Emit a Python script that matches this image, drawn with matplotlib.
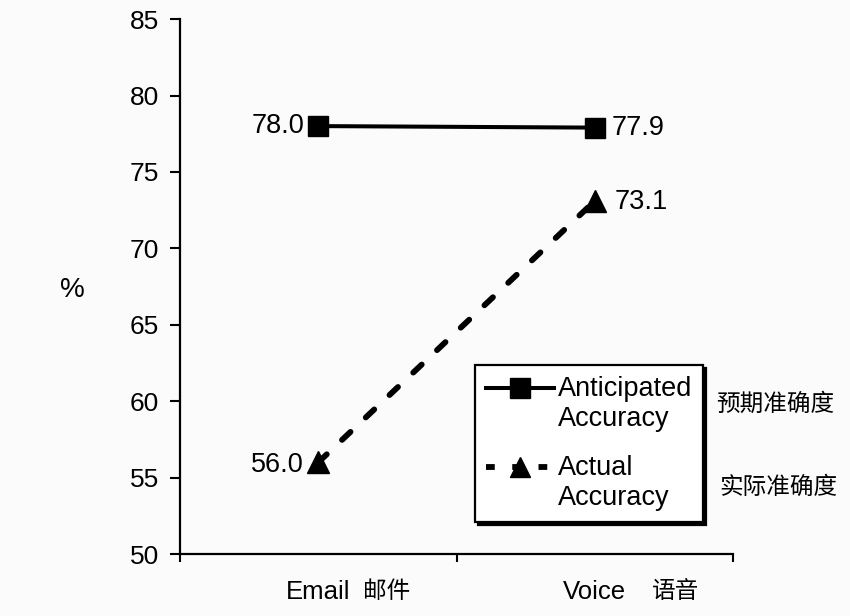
import numpy as np
import matplotlib.pyplot as plt
from matplotlib.lines import Line2D
from matplotlib.legend_handler import HandlerLine2D

plt.rcParams['font.family'] = ['Liberation Sans', 'Noto Sans CJK SC', 'DejaVu Sans']

categories = ['Email', 'Voice']
categories_cn = ['邮件', '语音']
anticipated = [78.0, 77.9]
actual = [56.0, 73.1]
series_names = ['Anticipated\nAccuracy', 'Actual\nAccuracy']
series_names_cn = ['预期准确度', '实际准确度']
yticks = [50, 55, 60, 65, 70, 75, 80, 85]


class TopLineHandler(HandlerLine2D):
    # put the handle next to the first line of a two-line label
    def create_artists(self, legend, orig_handle, xdescent, ydescent,
                       width, height, fontsize, trans):
        arts = super().create_artists(legend, orig_handle, xdescent, ydescent,
                                      width, height, fontsize, trans)
        for a in arts:
            a.set_ydata(np.asarray(a.get_ydata()) + 0.6 * fontsize)
        return arts


fig = plt.figure(figsize=(8.5, 6.16), dpi=100, facecolor='#fbfbfb')
ax = fig.add_axes([0.2118, 0.1006, 0.8624 - 0.2118, 0.969 - 0.1006])
ax.set_facecolor('#fbfbfb')

x = list(range(len(categories)))
ax.plot(x, anticipated, color='black', lw=2.9, marker='s', ms=15, zorder=3)
ax.plot(x, actual, color='black', lw=4.2, ls=(0, (2.0, 3.6)), marker='^', ms=16,
        dash_capstyle='round', zorder=3)

# value labels
fs = 19.5
ax.annotate(f'{anticipated[0]:.1f}', xy=(x[0], anticipated[0]), xytext=(-14, 0),
            textcoords='offset pixels', ha='right', va='center', fontsize=fs)
ax.annotate(f'{anticipated[1]:.1f}', xy=(x[1], anticipated[1]), xytext=(17, 0),
            textcoords='offset pixels', ha='left', va='center', fontsize=fs)
ax.annotate(f'{actual[0]:.1f}', xy=(x[0], actual[0]), xytext=(-15, -3),
            textcoords='offset pixels', ha='right', va='center', fontsize=fs)
ax.annotate(f'{actual[1]:.1f}', xy=(x[1], actual[1]), xytext=(20, -1),
            textcoords='offset pixels', ha='left', va='center', fontsize=fs)

ax.set_xlim(-0.5, 1.5)
ax.set_ylim(50, 85)
ax.set_yticks(yticks)
ax.tick_params(axis='y', length=7, width=1.5, labelsize=19, pad=8)
ax.set_xticks(x)
ax.set_xticklabels(categories, fontsize=18.5)
ax.tick_params(axis='x', length=0, pad=19)
ax.set_xticks([-0.5, 0.5, 1.5], minor=True)
ax.tick_params(axis='x', which='minor', length=6, width=1.5)

cn_offsets = [45, 57]
for i, cn in enumerate(categories_cn):
    ax.annotate(cn, xy=(x[i], 0), xycoords=('data', 'axes fraction'),
                xytext=(cn_offsets[i], -38), textcoords='offset pixels',
                ha='left', va='center', fontsize=17)

ax.set_ylabel('%', rotation=0, fontsize=20, va='center', ha='center')
ax.yaxis.set_label_coords(-0.195, 0.493)

for s in ['top', 'right']:
    ax.spines[s].set_visible(False)
for s in ['left', 'bottom']:
    ax.spines[s].set_linewidth(1.6)

handles = [
    Line2D([], [], color='black', lw=2.9, marker='s', ms=14),
    Line2D([], [], color='black', lw=4.2, ls=(0, (1.5, 3.0)), marker='^', ms=14),
]
leg = ax.legend(handles, series_names, loc='upper left',
                bbox_to_anchor=(0.559, 0.407), bbox_transform=fig.transFigure,
                fontsize=19.5, frameon=True, fancybox=False,
                shadow={'facecolor': 'black', 'edgecolor': 'black', 'alpha': 1},
                handlelength=2.5, handletextpad=0.15, labelspacing=0.85,
                borderpad=0.4, borderaxespad=0,
                handler_map={Line2D: TopLineHandler()})
leg.get_frame().set_edgecolor('black')
leg.get_frame().set_linewidth(1.6)
leg.get_frame().set_facecolor('white')

fig.text(0.842, 0.3425, series_names_cn[0], fontsize=17, va='center')
fig.text(0.846, 0.208, series_names_cn[1], fontsize=17, va='center')

fig.savefig('out.png', dpi=100, facecolor=fig.get_facecolor())
